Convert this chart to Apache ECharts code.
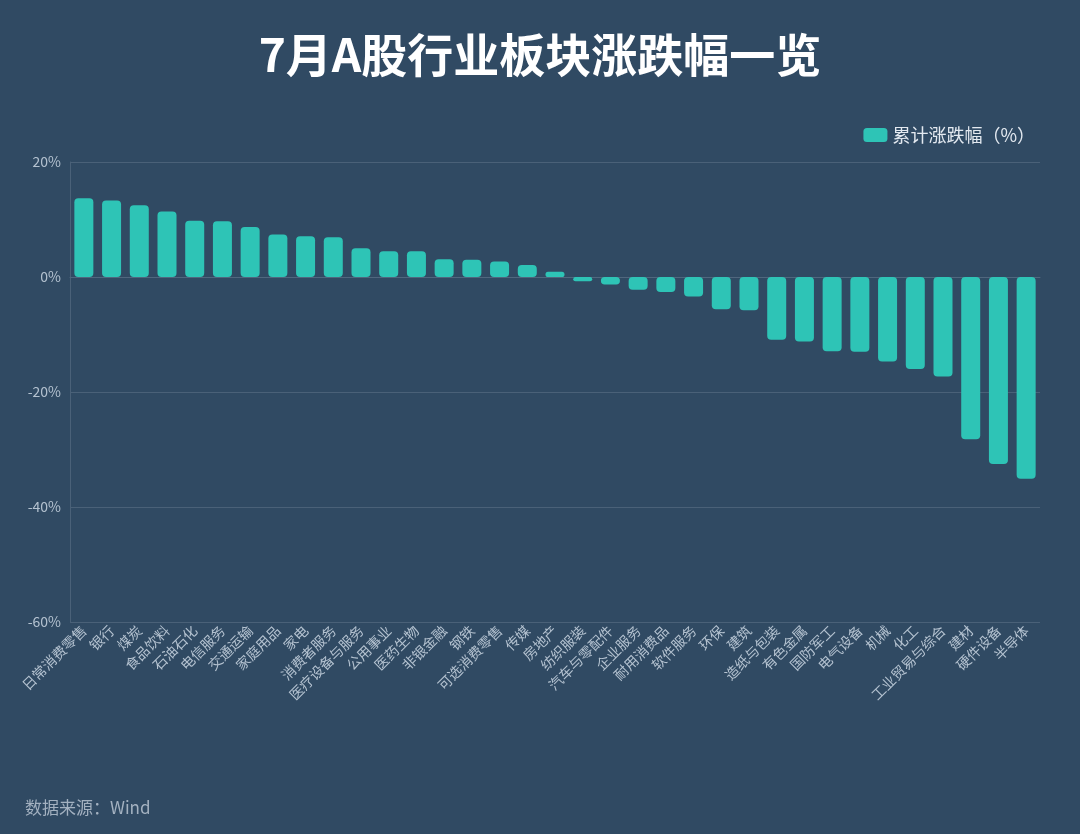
<!DOCTYPE html>
<html>
<head>
<meta charset="utf-8">
<script src="https://cdn.jsdelivr.net/npm/echarts@6/dist/echarts.min.js"></script>
<style>
  html, body { margin: 0; padding: 0; background: #304a63; }
  #main { width: 1080px; height: 834px; }
</style>
</head>
<body>
<div id="main"></div>
<script>
// 行业名称
var sectors = ['日常消费零售', '银行', '煤炭', '食品饮料', '石油石化', '电信服务', '交通运输', '家庭用品', '家电', '消费者服务',
  '医疗设备与服务', '公用事业', '医药生物', '非银金融', '钢铁', '可选消费零售', '传媒', '房地产', '纺织服装', '汽车与零配件',
  '企业服务', '耐用消费品', '软件服务', '环保', '建筑', '造纸与包装', '有色金属', '国防军工', '电气设备', '机械',
  '化工', '工业贸易与综合', '建材', '硬件设备', '半导体'];
// 累计涨跌幅 (%)
var changePct = [13.7, 13.3, 12.5, 11.4, 9.8, 9.7, 8.7, 7.4, 7.1, 6.9,
  5.0, 4.5, 4.5, 3.1, 3.0, 2.7, 2.1, 0.9, -0.75, -1.3,
  -2.2, -2.6, -3.4, -5.6, -5.8, -10.9, -11.2, -12.9, -13.0, -14.7,
  -16.0, -17.3, -28.2, -32.5, -35.1];
var yTicks = [-60, -40, -20, 0, 20];

var chart = echarts.init(document.getElementById('main'));

var font = '"Noto Sans CJK SC", "Noto Sans", sans-serif';

var option = {
  backgroundColor: '#304a63',
  textStyle: { fontFamily: font },
  title: {
    text: '7月A股行业板块涨跌幅一览',
    left: 'center',
    top: 27,
    textStyle: { color: '#ffffff', fontSize: 46, fontWeight: 'bold', fontFamily: font }
  },
  legend: {
    right: 40,
    top: 121,
    itemWidth: 24,
    itemHeight: 14,
    itemGap: 6,
    textStyle: { color: '#e3e9f0', fontSize: 18, fontFamily: font },
    data: ['累计涨跌幅（%）']
  },
  graphic: [{
    type: 'text',
    left: 25,
    top: 799,
    style: { text: '数据来源：Wind', fill: '#a3b1c0', font: '17px ' + font }
  }],
  grid: { left: 70, right: 40, top: 162, bottom: 212 },
  xAxis: {
    type: 'category',
    data: sectors,
    axisLine: { show: true, lineStyle: { color: '#50677e' } },
    axisTick: { show: false },
    axisLabel: {
      rotate: 45,
      interval: 0,
      color: '#b4c2d0',
      fontSize: 14,
      margin: 6
    }
  },
  yAxis: {
    type: 'value',
    min: yTicks[0],
    max: yTicks[yTicks.length - 1],
    interval: 20,
    axisLine: { show: true, lineStyle: { color: '#4a6178' } },
    axisTick: { show: false },
    axisLabel: { color: '#b4c2d0', fontSize: 14, formatter: '{value}%', margin: 9 },
    splitLine: { lineStyle: { color: '#4a6178' } }
  },
  series: [{
    name: '累计涨跌幅（%）',
    type: 'bar',
    data: changePct,
    barWidth: 19,
    itemStyle: { color: '#2ec4b6', borderRadius: 4 }
  }]
};

chart.setOption(option);
window.addEventListener('resize', chart.resize);
</script>
</body>
</html>
